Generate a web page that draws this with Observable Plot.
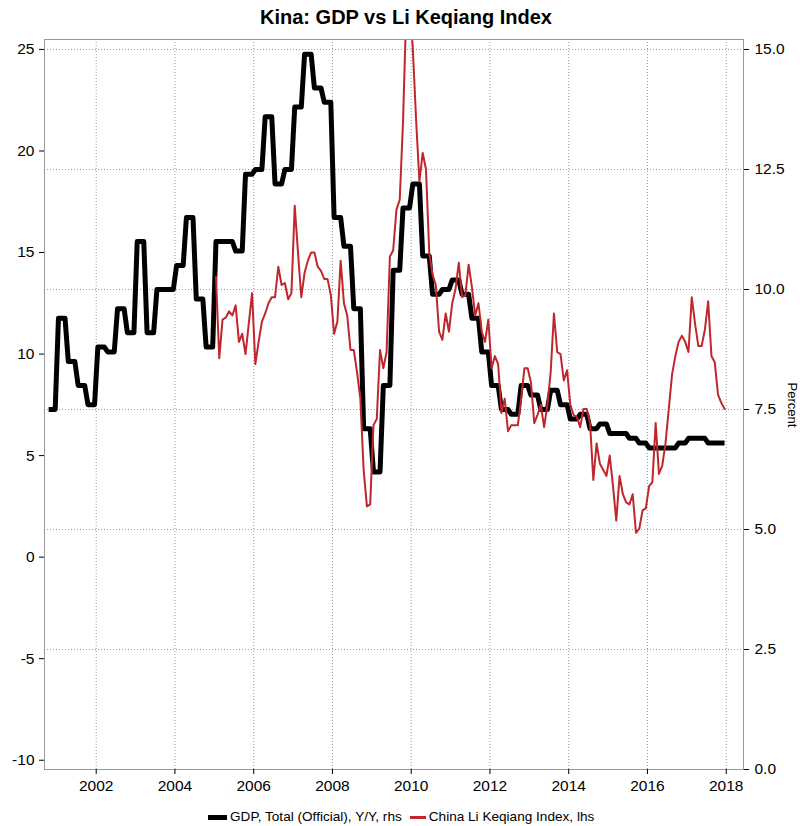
<!DOCTYPE html>
<html>
<head>
<meta charset="utf-8">
<script src="https://cdn.jsdelivr.net/npm/d3@7"></script>
<script src="https://cdn.jsdelivr.net/npm/@observablehq/plot@0.6"></script>
<style>
  html, body { margin: 0; padding: 0; background: #fff; }
  #wrap { position: relative; width: 800px; height: 826px; font-family: "Liberation Sans", Arial, sans-serif; color: #000; overflow: hidden; }
  #title { position: absolute; left: 0; top: 7px; width: 800px; padding-left: 12px; box-sizing: border-box; text-align: center; font-weight: bold; font-size: 20px; line-height: 20px; }
  #chart { position: absolute; left: 0; top: 0; }
  #percent { position: absolute; left: 792px; top: 405px; transform: translate(-50%, -50%) rotate(90deg); font-size: 13px; line-height: 13px; white-space: nowrap; }
  #legend { position: absolute; left: 208px; top: 809px; display: flex; align-items: center; font-size: 13.6px; line-height: 16px; white-space: nowrap; }
  #legend .sw { display: inline-block; }
</style>
</head>
<body>
<div id="wrap">
  <div id="chart"></div>
  <div id="title">Kina: GDP vs Li Keqiang Index</div>
  <div id="percent">Percent</div>
  <div id="legend"></div>
</div>
<script>
// ---------- data ----------
const chartTitle = "Kina: GDP vs Li Keqiang Index";
const seriesNames = ["GDP, Total (Official), Y/Y, rhs", "China Li Keqiang Index, lhs"];
const seriesColors = ["#000000", "#C0272D"];

// GDP, quarterly Y/Y (right axis), starting 2000 Q4
const gdpFirstQuarter = { year: 2000, quarter: 4 };
const gdpQuarterly = [
  7.5,
  9.4, 8.5, 8.0, 7.6,
  8.8, 8.7, 9.6, 9.1,
  11.0, 9.1, 10.0, 10.0,
  10.5, 11.5, 9.8, 8.8,
  11.0, 11.0, 10.8, 12.4,
  12.5, 13.6, 12.2, 12.5,
  13.8, 14.9, 14.2, 13.9,
  11.5, 10.9, 9.6, 7.1,
  6.2, 8.0, 10.4, 11.7,
  12.2, 10.7, 9.9, 10.0,
  10.2, 9.9, 9.4, 8.7,
  8.0, 7.5, 7.4, 8.0,
  7.8, 7.5, 7.9, 7.6,
  7.3, 7.4, 7.1, 7.2,
  7.0, 7.0, 6.9, 6.8,
  6.7, 6.7, 6.7, 6.8,
  6.9, 6.9, 6.8, 6.8
];

// Li Keqiang Index, monthly (left axis), Jan 2005 - Dec 2017
const lkiFirstMonth = { year: 2005, month: 1 };
const lki2005 = [13.8, 9.8, 11.7, 11.8, 12.1, 11.9, 12.4, 10.6, 11.0, 10.0, 11.5, 13.0];
const lki2006 = [9.5, 10.6, 11.6, 12.0, 12.5, 12.8, 12.8, 14.3, 13.4, 13.5, 12.7, 13.0];
const lki2007 = [17.3, 15.0, 12.8, 14.0, 14.6, 15.0, 15.0, 14.3, 14.1, 13.7, 13.7, 12.9];
const lki2008 = [11.0, 11.6, 14.6, 12.5, 11.9, 10.2, 10.2, 9.1, 7.8, 4.3, 2.5, 2.6];
const lki2009 = [6.5, 6.8, 10.2, 9.3, 10.1, 14.8, 15.1, 17.1, 17.6, 21.4, 27.0, 27.5];
const lki2010 = [25.0, 21.5, 18.5, 19.9, 19.1, 15.0, 13.9, 13.4, 11.1, 10.7, 12.0, 11.1];
const lki2011 = [12.5, 13.2, 14.5, 12.8, 12.9, 14.4, 13.3, 11.9, 12.5, 11.1, 10.6, 11.7];
const lki2012 = [9.3, 9.9, 9.5, 7.1, 7.8, 6.2, 6.5, 6.5, 6.5, 7.8, 9.3, 9.3];
const lki2013 = [8.6, 6.6, 7.0, 7.5, 6.4, 7.5, 9.1, 12.0, 10.1, 10.0, 8.7, 9.2];
const lki2014 = [7.5, 7.0, 6.9, 6.4, 7.3, 7.3, 6.6, 3.8, 5.6, 4.6, 4.3, 4.0];
const lki2015 = [5.0, 3.5, 1.8, 4.0, 3.1, 2.7, 2.6, 3.1, 1.2, 1.4, 2.3, 2.4];
const lki2016 = [3.5, 3.7, 6.6, 4.1, 4.5, 5.6, 7.3, 9.0, 9.9, 10.6, 10.9, 10.6];
const lki2017 = [10.1, 12.8, 11.5, 10.4, 10.4, 11.2, 12.6, 9.9, 9.6, 8.0, 7.6, 7.3];

// axes
const xTicks = [2002, 2004, 2006, 2008, 2010, 2012, 2014, 2016, 2018];
const leftTicks = [-10, -5, 0, 5, 10, 15, 20, 25];
const rightTicks = [0, 2.5, 5, 7.5, 10, 12.5, 15];
const xDomain = [2000.687, 2018.439];
const leftDomain = [-10.457, 25.49];
const rightDomain = [0, 15.208];

// ---------- build ----------
const toRight = l => (l - leftDomain[0]) * (rightDomain[1] - rightDomain[0]) / (leftDomain[1] - leftDomain[0]) + rightDomain[0];
const toLeft = r => (r - rightDomain[0]) * (leftDomain[1] - leftDomain[0]) / (rightDomain[1] - rightDomain[0]) + leftDomain[0];

// quarterly values held over their three months
const gdpRows = [];
gdpQuarterly.forEach((v, i) => {
  const qi = (gdpFirstQuarter.quarter - 1) + i;
  const year = gdpFirstQuarter.year + Math.floor(qi / 4);
  const q = qi % 4;
  for (let k = 0; k < 3; k++) {
    const m = q * 3 + k;
    gdpRows.push({ t: year + (m + 0.5) / 12, v });
  }
});

const lkiAll = [].concat(lki2005, lki2006, lki2007, lki2008, lki2009, lki2010, lki2011, lki2012, lki2013, lki2014, lki2015, lki2016, lki2017);
const lkiRows = lkiAll.map((v, i) => {
  const mi = (lkiFirstMonth.month - 1) + i;
  const year = lkiFirstMonth.year + Math.floor(mi / 12);
  const m = mi % 12;
  return { t: year + (m + 0.5) / 12, v };
});

const gridStyle = { stroke: "#9a9a9a", strokeOpacity: 1, strokeDasharray: "1,2" };

const chart = Plot.plot({
  width: 800,
  height: 800,
  marginTop: 39,
  marginBottom: 31,
  marginLeft: 44,
  marginRight: 57,
  style: { fontFamily: "'Liberation Sans', Arial, sans-serif", fontSize: "15.5px", background: "transparent", color: "#000" },
  x: { type: "linear", domain: xDomain },
  y: { domain: rightDomain },
  marks: [
    Plot.gridX({ ticks: xTicks, ...gridStyle }),
    Plot.gridY({ ticks: rightTicks.filter(d => d > 0), ...gridStyle }),
    Plot.line(gdpRows, { x: "t", y: "v", stroke: seriesColors[0], strokeWidth: 5, strokeLinejoin: "round", strokeLinecap: "butt" }),
    Plot.line(lkiRows, { x: "t", y: d => toRight(d.v), stroke: seriesColors[1], strokeWidth: 2, strokeLinejoin: "round", clip: true }),
    Plot.frame({ stroke: "#999" }),
    Plot.axisX({ ticks: xTicks, tickFormat: d => String(d), tickSize: 5, tickPadding: 5, label: null }),
    Plot.axisY({ anchor: "left", ticks: leftTicks.map(toRight), tickFormat: r => String(Math.round(toLeft(r))), tickSize: 5, tickPadding: 5, label: null }),
    Plot.axisY({ anchor: "right", ticks: rightTicks, tickFormat: d3.format(".1f"), tickSize: 5, tickPadding: 6, label: null })
  ]
});
document.getElementById("chart").appendChild(chart);
document.getElementById("title").textContent = chartTitle;

const legend = document.getElementById("legend");
seriesNames.forEach((name, i) => {
  const sw = document.createElement("span");
  sw.className = "sw";
  sw.style.background = seriesColors[i];
  sw.style.width = i === 0 ? "19px" : "16px";
  sw.style.height = i === 0 ? "5px" : "3px";
  sw.style.marginLeft = i === 0 ? "0" : "8px";
  sw.style.marginRight = "3px";
  const tx = document.createElement("span");
  tx.textContent = name;
  legend.appendChild(sw);
  legend.appendChild(tx);
});
</script>
</body>
</html>
